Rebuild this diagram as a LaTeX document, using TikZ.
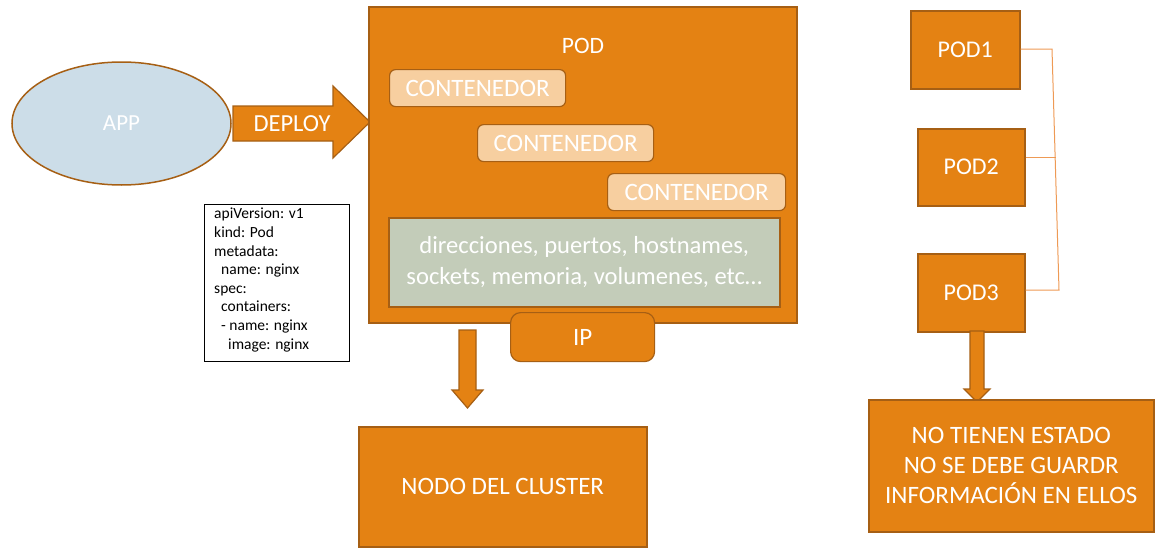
\documentclass[tikz,border=0pt]{standalone}
\usepackage{fontspec}
\setmainfont{Carlito}
\usetikzlibrary{shapes.geometric}
\definecolor{org}{HTML}{E48213}
\definecolor{orgd}{HTML}{A65F14}
\definecolor{lightc}{HTML}{F7CFA0}
\definecolor{grayc}{HTML}{C3CCB9}
\definecolor{appc}{HTML}{CCDDE8}
\definecolor{linec}{HTML}{EE9A55}
\begin{document}
\begin{tikzpicture}[x=1pt,y=-1pt,
  box/.style={draw=orgd, fill=org, line width=1.5pt, text=white, align=center, inner sep=0pt,
    font=\fontsize{25}{30}\selectfont},
  cont/.style={draw=orgd, fill=lightc, line width=1.2pt, rounded corners=6pt, text=white, inner sep=0pt,
    minimum width=176, minimum height=37, font=\fontsize{25}{30}\selectfont},
  lbl/.style={text=white, inner sep=0pt, font=\fontsize{24.5}{30}\selectfont},
  blockarrow/.style={draw=orgd, fill=org, line width=1.2pt, line join=miter},
  link/.style={draw=linec, line width=1pt}
]
\useasboundingbox (0,0) rectangle (1159,549);

% APP ellipse
\node[draw=orgd, fill=appc, line width=1.5pt, ellipse, minimum width=219, minimum height=123, inner sep=0pt,
  text=white, font=\fontsize{23}{28}\selectfont] (app) at (121.5,123.5) {APP};

% DEPLOY arrow
\path[blockarrow] (233,106) -- (333,106) -- (333,86) -- (370,122) -- (333,158) -- (333,141) -- (233,141) -- cycle;
\node[lbl] (deploy) at (292,123.5) {DEPLOY};

% POD big box
\node[box, anchor=north west, minimum width=428, minimum height=316] (pod) at (368,6) {};
\node[lbl, font=\fontsize{23.5}{28}\selectfont] (podlbl) at (583,46) {POD};

\node[cont, anchor=north west] (c1) at (389,69) {CONTENEDOR};
\node[cont, anchor=north west] (c2) at (477,124) {CONTENEDOR};
\node[cont, anchor=north west, minimum width=178] (c3) at (607,173) {CONTENEDOR};

\node[draw=orgd, fill=grayc, line width=1.5pt, anchor=north west, minimum width=391, minimum height=89,
  inner sep=0pt, text=white, align=center, font=\fontsize{24.6}{31}\selectfont] (res) at (388,217)
  {direcciones, puertos, hostnames,\\ sockets, memoria, volumenes, etc…};

% IP
\node[box, rounded corners=10pt, line width=1.2pt, anchor=north west, minimum width=144, minimum height=49] (ip) at (510,312) {IP};

% YAML
\node[draw=black, line width=0.8pt, anchor=north west, minimum width=145, minimum height=157, inner sep=0pt] (yaml) at (204,204) {};
\node[anchor=north west, inner sep=0pt, align=left, font=\fontsize{15.5}{18.6}\selectfont, text=black] (yamltxt) at (214,208)
 {apiVersion: v1\\kind: Pod\\metadata:\\\ \ name: nginx\\spec:\\\ \ containers:\\\ \ - name: nginx\\\ \ \ \ image: nginx};

% down arrow to NODO
\path[blockarrow] (459,330) -- (476,330) -- (476,390) -- (483,390) -- (467.5,408) -- (452,390) -- (459,390) -- cycle;
\node[box, anchor=north west, minimum width=288, minimum height=120] (nodo) at (358,426) {NODO DEL CLUSTER};

% PODs on right
\node[box, anchor=north west, minimum width=109, minimum height=78, font=\fontsize{24}{30}\selectfont] (p1) at (910,10) {POD1};
\node[box, anchor=north west, minimum width=107, minimum height=77, font=\fontsize{24}{30}\selectfont] (p2) at (917,128) {POD2};
\node[box, anchor=north west, minimum width=107, minimum height=78, font=\fontsize{24}{30}\selectfont] (p3) at (917,253) {POD3};

\coordinate (b1) at (1052,49);
\coordinate (b2) at (1055.5,157);
\coordinate (b3) at (1059,290);
\draw[link] (p1.east |- b1) -- (b1) -- (b3) -- (p3.east |- b3);
\draw[link] (p2.east |- b2) -- (b2);

% down arrow to stateless box
\path[blockarrow] (970,331) -- (984,331) -- (984,389) -- (990,389) -- (977,402) -- (964,389) -- (970,389) -- cycle;
\node[box, anchor=north west, minimum width=285, minimum height=132] (state) at (868,399)
  {NO TIENEN ESTADO\\NO SE DEBE GUARDR\\INFORMACIÓN EN ELLOS};
\end{tikzpicture}
\end{document}
